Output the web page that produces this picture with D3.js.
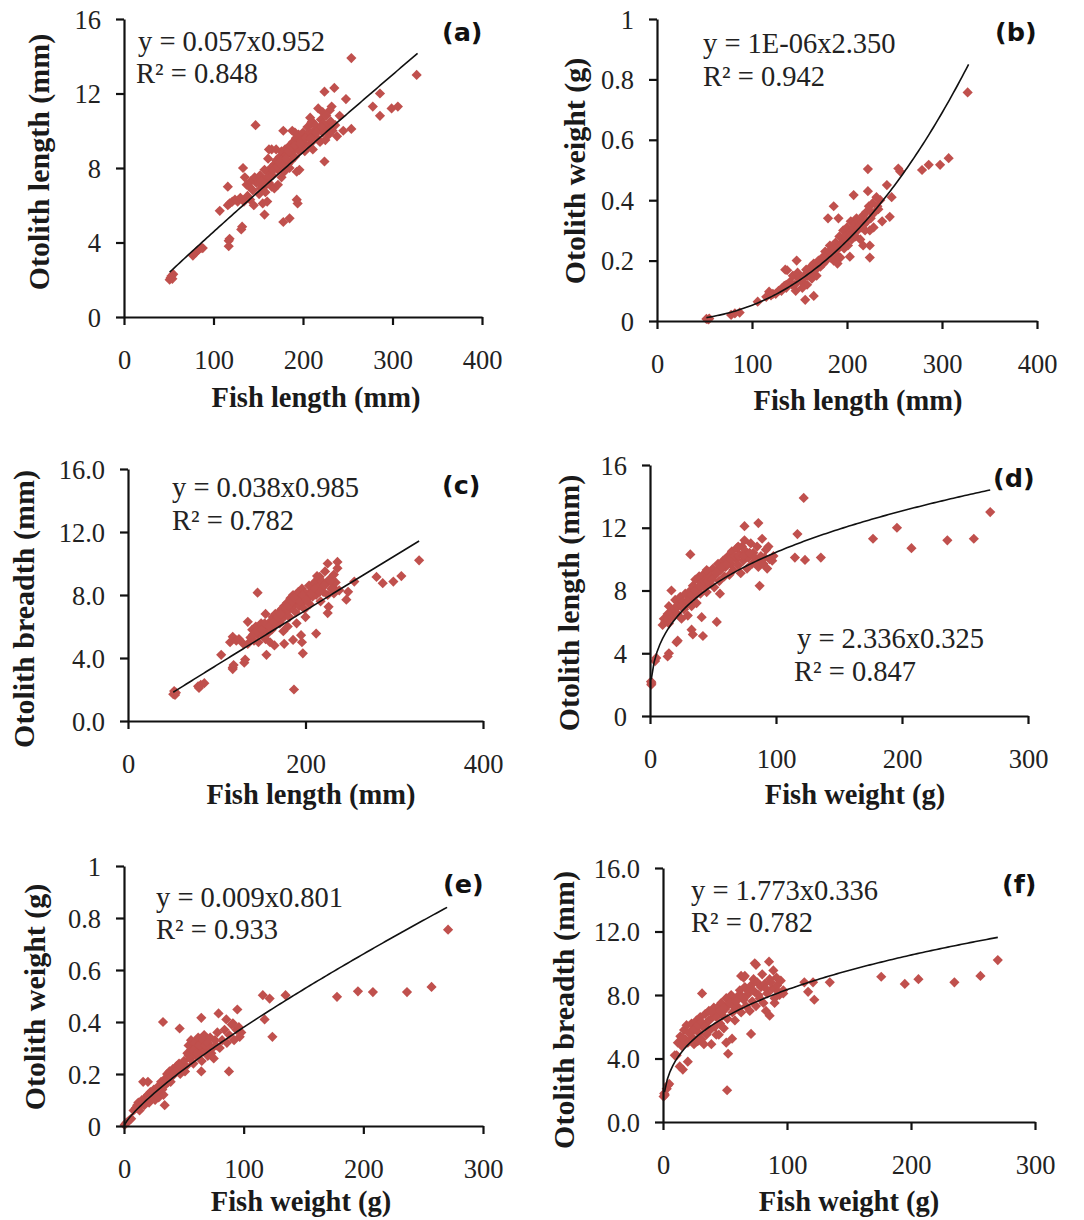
<!DOCTYPE html>
<html>
<head>
<meta charset="utf-8">
<script src="https://cdn.jsdelivr.net/npm/d3@7"></script>
<style>
  html, body { margin: 0; padding: 0; background: #ffffff; }
  svg { display: block; }
</style>
</head>
<body>
<svg id="chart" width="1084" height="1220"></svg>
<script>
// ---------------- DATA ----------------
// (a) Fish length (mm) vs Otolith length (mm)
const aPts = [
  [51,2.0],[52,2.1],[53,2.2],[55,2.3],[54,2.05],
  [77,3.3],[80,3.45],[83,3.6],[86,3.7],[88,3.7],
  [117,3.8],[117,4.1],[118,4.2],[131,4.7],[132,4.85],[107,5.7],
  [116,6.0],[118,6.1],[121,6.2],[124,6.3],[127,6.2],[130,6.4],[116,7.0],[133,8.0],
  [135,7.5],[137,7.1],[134,6.2],[138,6.5],[140,7.0],[142,7.3],[144,6.8],[146,7.5],[148,7.2],[141,6.3],[145,6.0],
  [147,10.3],[157,5.5],[155,6.1],[160,6.2],[158,6.7],[153,6.9],[178,5.1],[185,5.3],[193,6.3],[194,6.1],
  [224,8.35],[165,9.0],[178,10.0],[188,10.0],[191,9.9],[208,10.7],[210,10.5],[217,11.2],[222,11.0],
  [224,12.1],[235,12.3],[232,11.3],[230,11.1],[248,11.7],[245,10.0],[254,10.1],[241,10.8],
  [278,11.3],[286,12.0],[286,10.8],[299,11.2],[306,11.3],[327,13.0],[254,13.9],
  [150,7.3],[152,7.6],[155,7.0],[158,7.4],[160,7.8],[162,7.2],[164,8.0],[166,7.6],[168,8.2],[165,7.0],
  [170,8.4],[172,7.9],[174,8.6],[175,8.2],[176,8.9],[178,8.5],[179,7.8],[180,9.0],[182,8.7],[183,8.2],
  [185,9.2],[186,8.8],[187,8.4],[189,9.4],[190,9.0],[191,8.6],[192,9.6],[193,7.8],[194,9.2],[195,9.8],
  [196,8.9],[198,9.5],[199,9.1],[200,9.9],[201,9.3],[202,8.9],[204,9.7],[205,10.2],[206,9.2],[207,9.9],
  [209,10.4],[210,9.4],[211,9.0],[213,9.8],[214,10.3],[216,9.6],[218,10.1],[219,9.4],[220,10.6],[222,9.9],
  [223,10.4],[225,9.5],[226,10.8],[228,10.2],[229,9.8],[231,10.5],[233,10.0],[236,10.3],[238,9.7],
  [162,9.0],[168,6.9],[172,7.1],[176,7.5],[185,8.0],[196,7.9],[170,9.0],[180,8.1],[161,8.5],[157,7.9],
  [151,6.6],[154,7.3],[159,7.1],[163,7.5],[167,7.9],[171,8.1],[173,8.3],[177,8.1],[181,8.5],[184,8.9],
  [188,9.1],[191,9.2],[197,9.3],[203,9.6],[208,9.6],[212,10.0],[215,9.9],[221,10.2],[227,10.0],[232,10.2]
];
// (b) Fish length (mm) vs Otolith weight (g)
const bPts = [
  [52,0.007],[54,0.005],[55,0.008],[78,0.02],[82,0.025],[87,0.028],
  [106,0.064],[115,0.08],[118,0.097],[122,0.09],[131,0.1],[134,0.116],[136,0.11],
  [135,0.17],[137,0.168],[147,0.2],[156,0.07],[165,0.083],
  [186,0.38],[180,0.34],[191,0.34],[207,0.417],[222,0.503],[222,0.43],[242,0.45],[247,0.41],[245,0.345],
  [224,0.30],[224,0.25],[224,0.21],[203,0.213],[217,0.25],[254,0.505],[256,0.495],
  [279,0.5],[286,0.517],[298,0.517],[307,0.539],[327,0.757],
  [140,0.13],[143,0.15],[145,0.12],[148,0.16],[150,0.14],[152,0.13],[155,0.15],[157,0.17],[158,0.12],[160,0.16],
  [162,0.18],[163,0.14],[165,0.19],[167,0.17],[168,0.15],[170,0.2],[172,0.18],[174,0.21],[175,0.19],[177,0.23],
  [178,0.2],[180,0.22],[182,0.25],[183,0.21],[185,0.23],[186,0.2],[188,0.26],[189,0.22],[191,0.24],[192,0.28],
  [193,0.21],[195,0.26],[196,0.3],[197,0.24],[199,0.27],[200,0.31],[201,0.25],[202,0.29],[204,0.33],[205,0.27],
  [206,0.3],[208,0.32],[209,0.28],[210,0.34],[211,0.3],[213,0.33],[214,0.27],[215,0.31],[217,0.35],[218,0.32],
  [220,0.36],[221,0.33],[223,0.38],[225,0.34],[227,0.39],[229,0.36],[231,0.41],[233,0.37],[235,0.4],[237,0.33],
  [228,0.31],[132,0.11],[128,0.1],[136,0.12],[125,0.09],[120,0.085],[146,0.1],[153,0.11],[190,0.19],
  [142,0.12],[149,0.14],[154,0.14],[159,0.15],[164,0.16],[169,0.18],[173,0.19],[176,0.21],[181,0.23],[184,0.22],
  [187,0.24],[194,0.25],[198,0.28],[203,0.28],[207,0.31],[212,0.31],[216,0.33],[219,0.3],[226,0.36],[232,0.38]
];
// (c) Fish length (mm) vs Otolith breadth (mm)
const cPts = [
  [51,1.7],[52,1.9],[53,1.65],[54,1.8],[79,2.2],[82,2.3],[86,2.4],[80,2.1],
  [105,4.2],[118,3.3],[118,3.4],[119,3.55],[131,3.7],[132,3.9],[115,5.0],[118,5.35],[122,5.1],
  [146,8.15],[135,6.3],[155,6.8],[156,4.2],[165,4.8],[176,4.9],[186,5.15],[195,5.45],[196,5.0],[197,4.3],
  [187,2.0],[212,5.55],[225,6.85],[226,7.25],[225,10.0],[236,10.1],[231,8.5],[232,8.1],
  [246,7.7],[248,8.2],[255,8.85],[280,9.15],[287,8.75],[299,8.85],[308,9.2],[328,10.2],[216,9.16],
  [138,5.3],[140,5.8],[142,5.1],[144,6.0],[146,5.5],[147,5.0],[149,5.9],[150,6.2],[152,5.4],[153,5.7],
  [155,5.2],[156,6.0],[158,5.6],[160,6.3],[162,5.8],[163,6.6],[165,6.1],[166,6.8],[168,6.4],[170,6.9],
  [171,6.2],[173,7.1],[174,6.5],[176,7.3],[177,6.8],[179,7.5],[180,7.0],[182,6.6],[183,7.8],[184,7.2],
  [186,8.0],[187,7.4],[189,6.9],[190,7.7],[192,8.2],[193,7.3],[195,7.9],[196,8.4],[198,7.6],[199,7.1],
  [200,8.1],[202,7.8],[204,8.6],[205,7.4],[207,8.3],[208,7.9],[210,8.8],[212,8.0],[213,9.2],[215,8.5],
  [217,7.6],[218,8.9],[220,8.2],[222,9.5],[223,8.7],[225,8.0],[227,9.0],[229,8.4],[232,9.3],[234,8.8],
  [236,9.7],[238,8.3],[180,6.0],[190,6.2],[200,6.6],[175,5.7],[160,5.0],[130,4.9],[125,5.2],[135,4.9],
  [141,5.5],[145,5.7],[151,5.8],[154,6.2],[159,6.0],[164,6.3],[169,6.6],[172,6.8],[178,7.2],[181,7.3],
  [185,7.6],[188,7.8],[194,7.6],[197,8.0],[201,7.7],[206,8.1],[211,8.4],[216,8.2],[221,8.6],[228,8.9]
];
// (d) Fish weight (g) vs Otolith length (mm)
const dPts = [
  [1,2.0],[0.8,2.2],[1.2,2.1],[4,3.5],[5,3.7],[14,3.8],[15,4.0],[21,4.7],[22,4.8],
  [11,6.2],[14,6.5],[15,7.0],[17,8.0],[32,10.3],[33,5.5],[34,5.2],[41,6.3],[42,5.1],[53,6.0],[55.5,7.8],
  [75,12.1],[86,12.3],[87,8.3],[89,11.3],[94,10.8],[117,11.6],[122,13.9],[115,10.1],[123,9.95],[135.6,10.1],
  [177,11.3],[196,12.0],[207.5,10.7],[236,11.2],[257,11.3],[270,13.0],
  [10,5.8],[12,6.0],[14,6.2],[15,5.9],[16,6.6],[18,6.3],[20,6.8],[20,7.4],[22,6.5],[23,7.1],
  [24,7.6],[25,6.2],[26,7.3],[27,6.8],[28,7.8],[29,7.2],[30,6.4],[31,7.5],[32,8.0],[33,7.0],
  [34,8.3],[35,7.6],[36,8.7],[37,7.2],[38,8.1],[39,8.9],[40,7.8],[41,8.5],[42,9.0],[43,8.2],
  [44,8.8],[45,7.9],[46,9.2],[47,8.5],[48,8.9],[50,9.4],[51,8.2],[52,9.0],[54,9.7],[55,8.6],
  [56,9.3],[58,9.9],[59,8.9],[60,9.5],[62,10.2],[63,9.0],[64,9.7],[65,10.5],[66,9.3],[68,10.0],
  [69,10.7],[70,9.6],[71,10.3],[72,9.1],[73,10.8],[74,9.9],[76,10.5],[77,9.4],[78,10.1],[80,11.0],
  [81,9.7],[82,10.4],[84,9.9],[85,10.8],[86,9.5],[88,10.2],[90,9.7],[92,10.6],[93,9.4],[95,10.0],
  [97,9.9],[98,10.2],[75,11.2],[70,10.8],[60,10.0],[45,9.3],[28,7.0],
  [21,7.0],[25,7.0],[30,7.3],[33,7.7],[36,8.0],[39,8.3],[43,8.6],[46,8.6],[49,8.7],[53,9.2],
  [57,9.5],[61,9.7],[64,10.0],[67,10.2],[70,10.2],[74,10.2],[79,10.4],[83,10.1],[87,10.0],[91,10.1]
];
// (e) Fish weight (g) vs Otolith weight (g)
const ePts = [
  [0.5,0.004],[1.5,0.01],[3,0.016],[4.5,0.022],[6,0.028],
  [16,0.17],[20,0.17],[32.6,0.40],[34,0.08],[46.5,0.375],[64.6,0.416],[64.6,0.21],[79,0.433],[87.7,0.21],
  [85.5,0.41],[91,0.395],[94.7,0.448],[96.7,0.343],[116,0.503],[121.7,0.49],[117.5,0.41],[124,0.343],[135,0.503],
  [178,0.497],[195.5,0.518],[208,0.515],[236.5,0.515],[257,0.535],[270.8,0.755],
  [8,0.06],[10,0.07],[12,0.09],[13,0.06],[15,0.1],[17,0.08],[18,0.11],[20,0.12],[21,0.09],[22,0.13],
  [24,0.11],[25,0.14],[27,0.12],[28,0.15],[30,0.13],[31,0.17],[32,0.14],[34,0.18],[35,0.16],[36,0.2],
  [37,0.17],[38,0.21],[40,0.19],[41,0.22],[42,0.2],[44,0.23],[45,0.21],[46,0.24],[48,0.22],[50,0.25],
  [52,0.23],[53,0.28],[54,0.31],[55,0.26],[56,0.33],[57,0.29],[58,0.24],[59,0.32],[60,0.27],[61,0.3],
  [62,0.34],[63,0.28],[64,0.32],[65,0.25],[66,0.3],[67,0.35],[68,0.29],[69,0.33],[70,0.27],[71,0.31],
  [72,0.34],[73,0.28],[74,0.3],[75,0.26],[76,0.33],[78,0.36],[80,0.3],[82,0.33],[84,0.37],[86,0.32],
  [88,0.35],[90,0.39],[92,0.33],[94,0.37],[96,0.38],[98,0.36],[26,0.1],[29,0.11],[33,0.12],[39,0.17],[47,0.2],[51,0.21],
  [11,0.08],[14,0.08],[19,0.1],[23,0.12],[26,0.13],[29,0.14],[33,0.16],[36,0.18],[39,0.19],[43,0.21],
  [47,0.23],[54,0.27],[58,0.29],[61,0.28],[63,0.31],[66,0.33],[68,0.31],[70,0.32],[72,0.3],[77,0.31]
];
// (f) Fish weight (g) vs Otolith breadth (mm)
const fPts = [
  [0.5,1.6],[1,1.8],[1.5,1.7],[3,2.1],[4,2.3],[5,2.4],
  [9.5,4.2],[11,4.2],[13.5,3.5],[16,3.3],[20,3.8],[31.5,8.1],[51.7,2.0],[52.5,4.3],[55.7,5.25],[51,5.0],
  [71,5.55],[74,10.0],[75,9.9],[85.5,10.1],[89,9.55],[91.5,9.1],[86,6.7],[90,7.5],[83,7.0],[94,8.0],[97,8.1],
  [63,9.2],[65,9.1],[114,8.8],[117,8.2],[122,7.7],[121,8.8],[134.5,8.8],
  [176,9.15],[195,8.7],[206,9.0],[235,8.8],[256,9.2],[270,10.2],
  [12,5.0],[14,5.4],[15,4.8],[17,5.8],[18,5.2],[19,6.1],[20,5.0],[22,5.7],[23,6.2],[24,5.3],
  [25,4.9],[26,5.9],[27,6.4],[28,5.1],[29,5.6],[30,6.6],[31,5.2],[32,6.0],[33,4.9],[34,6.8],
  [35,5.5],[36,6.3],[37,7.0],[38,5.8],[39,4.9],[40,6.6],[41,7.2],[42,6.0],[43,5.5],[44,6.9],
  [45,7.3],[46,6.2],[47,7.5],[48,6.7],[49,5.9],[50,7.1],[51,7.8],[52,6.5],[53,7.4],[55,8.0],
  [56,6.9],[57,7.6],[58,6.4],[60,7.9],[61,7.2],[62,8.3],[63,6.9],[65,7.7],[66,8.5],[67,7.3],
  [68,8.0],[70,7.0],[71,8.6],[72,7.6],[73,9.0],[74,8.2],[75,7.3],[76,8.8],[78,7.8],[79,8.5],
  [80,9.3],[81,7.5],[82,8.7],[84,8.1],[86,9.0],[88,8.4],[90,7.8],[92,8.6],[95,8.9],[97,8.3],[66,9.2],[58,7.2],[45,5.5],
  [16,5.3],[21,5.6],[25,5.8],[28,6.1],[31,6.3],[34,6.0],[37,6.4],[40,6.9],[43,6.6],[46,7.0],
  [49,7.2],[54,7.5],[59,7.6],[64,7.9],[69,8.2],[72,8.3],[77,8.0],[83,8.4],[87,8.8],[93,8.2]
];

// power-trend coefficients y = k * x^p, with fitted x range
const trendK = [0.057, 1.04e-6, 0.038, 2.336, 0.00949, 1.773];
const trendP = [0.952, 2.350, 0.985, 0.325, 0.801, 0.336];
const trendXmin = [51, 52, 51, 1, 0.3, 1.2];
const trendXmax = [328, 328, 328, 270, 270, 270];

// tick labels
const xTicksLength = [0, 100, 200, 300, 400];
const xTicksLengthC = [0, 200, 400];
const xTicksWeight = [0, 100, 200, 300];
const yTicks16 = [0, 4, 8, 12, 16];
const yTicks1 = [0, 0.2, 0.4, 0.6, 0.8, 1];

// texts
const panelLetters = ["(a)", "(b)", "(c)", "(d)", "(e)", "(f)"];
const equations = ["y = 0.057x0.952", "y = 1E-06x2.350", "y = 0.038x0.985", "y = 2.336x0.325", "y = 0.009x0.801", "y = 1.773x0.336"];
const rSquared = ["R² = 0.848", "R² = 0.942", "R² = 0.782", "R² = 0.847", "R² = 0.933", "R² = 0.782"];
const xTitles = ["Fish length (mm)", "Fish length (mm)", "Fish length (mm)", "Fish weight (g)", "Fish weight (g)", "Fish weight (g)"];
const yTitles = ["Otolith length (mm)", "Otolith weight (g)", "Otolith breadth (mm)", "Otolith length (mm)", "Otolith weight (g)", "Otolith breadth (mm)"];

// ---------------- LAYOUT ----------------
const fmtInt = d => String(d);
const fmt1 = d => d.toFixed(1);
const layout = [
  {pts:aPts, xd:[0,400], xt:xTicksLength, yd:[0,16], yt:yTicks16, yf:fmtInt, L:124, R:482, B:317, T:19,
   eq:[138,51], r2:[136,83], lab:[442,41], xT:[316,407], yT:[49,162]},
  {pts:bPts, xd:[0,400], xt:xTicksLength, yd:[0,1], yt:yTicks1, yf:fmtInt, L:657, R:1037, B:321, T:19,
   eq:[703,53], r2:[703,86], lab:[995,41], xT:[858,410], yT:[585,171]},
  {pts:cPts, xd:[0,400], xt:xTicksLengthC, yd:[0,16], yt:yTicks16, yf:fmt1, L:128, R:483, B:721, T:469,
   eq:[172,497], r2:[172,530], lab:[442,494], xT:[311,804], yT:[34,609]},
  {pts:dPts, xd:[0,300], xt:xTicksWeight, yd:[0,16], yt:yTicks16, yf:fmtInt, L:650, R:1028, B:716, T:465,
   eq:[797,648], r2:[794,681], lab:[993,487], xT:[855,804], yT:[579,603]},
  {pts:ePts, xd:[0,300], xt:xTicksWeight, yd:[0,1], yt:yTicks1, yf:fmtInt, L:124, R:483, B:1126, T:866,
   eq:[156,907], r2:[156,939], lab:[443,893], xT:[301,1211], yT:[45,997]},
  {pts:fPts, xd:[0,300], xt:xTicksWeight, yd:[0,16], yt:yTicks16, yf:fmt1, L:663, R:1035, B:1122, T:868,
   eq:[691,900], r2:[691,932], lab:[1002,893], xT:[849,1211], yT:[574,1010]}
];

const svg = d3.select("#chart");
svg.append("rect").attr("width", 1084).attr("height", 1220).attr("fill", "#ffffff");

const SERIF = '"Liberation Serif", "Times New Roman", serif';
const diamond = "M0,-5.1L5.1,0L0,5.1L-5.1,0Z";

layout.forEach((p, i) => {
  const x = d3.scaleLinear().domain(p.xd).range([p.L, p.R]);
  const y = d3.scaleLinear().domain(p.yd).range([p.B, p.T]);
  const g = svg.append("g");

  // points
  g.append("g").selectAll("path").data(p.pts).join("path")
    .attr("d", diamond)
    .attr("transform", d => `translate(${x(d[0])},${y(d[1])})`)
    .attr("fill", "#C0504D");

  // trend line
  const xs = d3.range(0, 121).map(k => trendXmin[i] + (trendXmax[i] - trendXmin[i]) * k / 120);
  const line = d3.line().x(v => x(v)).y(v => y(trendK[i] * Math.pow(v, trendP[i])));
  g.append("path").datum(xs).attr("d", line)
    .attr("fill", "none").attr("stroke", "#111").attr("stroke-width", 1.6);

  // axes
  const xAxis = d3.axisBottom(x).tickValues(p.xt).tickFormat(fmtInt).tickSize(8).tickSizeOuter(0).tickPadding(30);
  const yAxis = d3.axisLeft(y).tickValues(p.yt).tickFormat(p.yf).tickSize(8).tickSizeOuter(0).tickPadding(15);
  const gx = g.append("g").attr("transform", `translate(0,${p.B})`).call(xAxis);
  const gy = g.append("g").attr("transform", `translate(${p.L},0)`).call(yAxis);
  [gx, gy].forEach(a => {
    a.select(".domain").attr("stroke", "#111").attr("stroke-width", 2.2);
    a.selectAll(".tick line").attr("stroke", "#111").attr("stroke-width", 2.2);
    a.selectAll(".tick text").attr("fill", "#222").style("font-family", SERIF).style("font-size", "26.5px");
  });
  gx.selectAll(".tick text").attr("dy", null).attr("y", 52).attr("dominant-baseline", "auto");
  gy.selectAll(".tick text").attr("dy", "0.34em");

  // axis titles
  g.append("text").attr("x", p.xT[0]).attr("y", p.xT[1]).attr("text-anchor", "middle")
    .style("font-family", SERIF).style("font-weight", "bold").style("font-size", "28.5px").attr("fill", "#1a1a1a")
    .text(xTitles[i]);
  g.append("text").attr("transform", `translate(${p.yT[0]},${p.yT[1]}) rotate(-90)`).attr("text-anchor", "middle")
    .style("font-family", SERIF).style("font-weight", "bold").style("font-size", "30px").attr("fill", "#1a1a1a")
    .text(yTitles[i]);

  // equation and R²
  g.append("text").attr("x", p.eq[0]).attr("y", p.eq[1])
    .style("font-family", SERIF).style("font-size", "28.5px").attr("fill", "#222").text(equations[i]);
  g.append("text").attr("x", p.r2[0]).attr("y", p.r2[1])
    .style("font-family", SERIF).style("font-size", "28.5px").attr("fill", "#222").text(rSquared[i]);

  // panel letter
  g.append("text").attr("x", p.lab[0]).attr("y", p.lab[1])
    .style("font-family", '"DejaVu Sans", Verdana, sans-serif').style("font-weight", "bold").style("font-size", "25.5px")
    .attr("fill", "#111").text(panelLetters[i]);
});
</script>
</body>
</html>
